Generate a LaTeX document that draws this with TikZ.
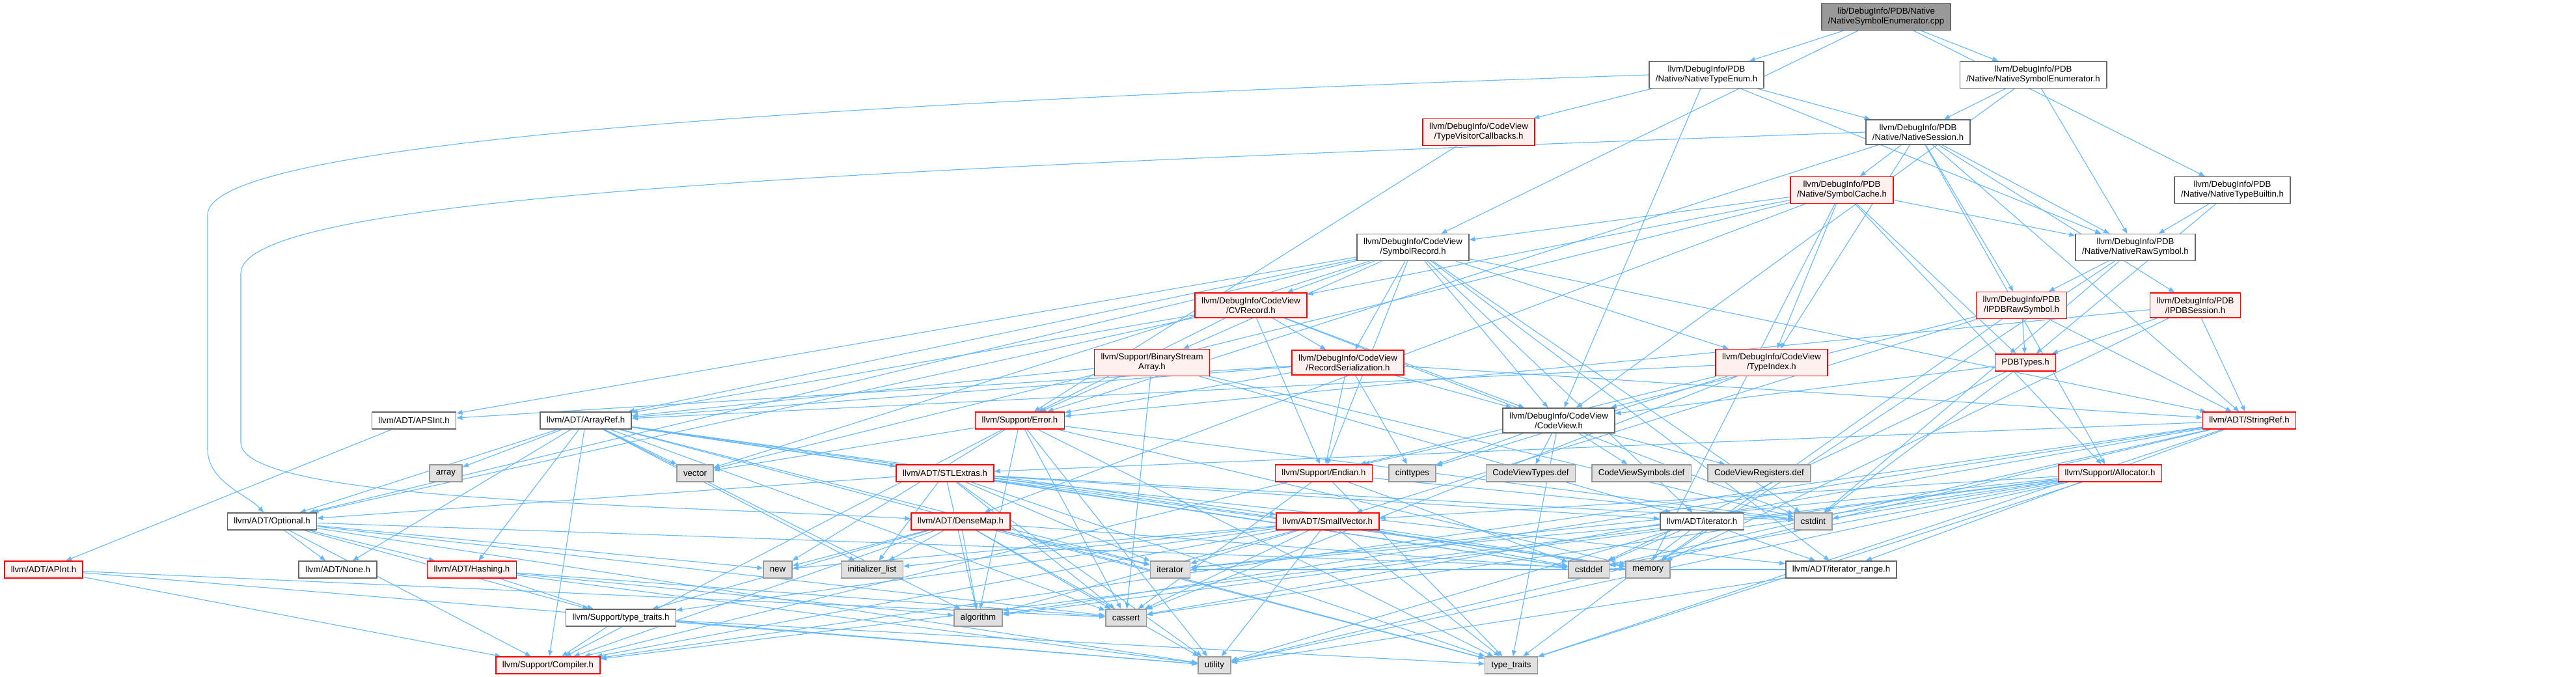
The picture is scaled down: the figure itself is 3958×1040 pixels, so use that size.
\documentclass[tikz,border=0pt]{standalone}
\usepackage{fontspec}
\setmainfont{Liberation Sans}
\usepackage{xcolor}
\usepackage{tikz}
\usetikzlibrary{arrows.meta,backgrounds}

\definecolor{edgeblue}{HTML}{63B8FF}
\definecolor{redfill}{HTML}{FFF0F0}
\definecolor{sysfill}{HTML}{E0E0E0}

\begin{document}
\begin{tikzpicture}[
  x=1pt, y=-1pt,
  filebox/.style={draw=black!60, line width=1.5pt, fill=white, align=center, font=\fontsize{13.2}{15}\selectfont, inner xsep=10pt, inner ysep=6.8pt, minimum height=26pt},
  redbox/.style={filebox, draw=red, fill=redfill},
  sysbox/.style={filebox, draw=black!40, fill=sysfill},
  rootbox/.style={filebox, fill=black!40},
  arr/.style={-{Triangle[length=9pt,width=7pt]}, draw=edgeblue, line width=1.1pt}
]
\useasboundingbox (0,0) rectangle (3958,1040);

% top of the graph
\node[rootbox] (root) at (2898,26) {lib/DebugInfo/PDB/Native\\/NativeSymbolEnumerator.cpp};
\node[filebox] (nte) at (2622,115) {llvm/DebugInfo/PDB\\/Native/NativeTypeEnum.h};
\node[filebox] (nseh) at (3124,115) {llvm/DebugInfo/PDB\\/Native/NativeSymbolEnumerator.h};
\node[redbox] (tvc) at (2272,203) {llvm/DebugInfo/CodeView\\/TypeVisitorCallbacks.h};
\node[filebox] (nsess) at (2947,203) {llvm/DebugInfo/PDB\\/Native/NativeSession.h};
\node[redbox] (scache) at (2830,292) {llvm/DebugInfo/PDB\\/Native/SymbolCache.h};
\node[filebox] (ntb) at (3430,292) {llvm/DebugInfo/PDB\\/Native/NativeTypeBuiltin.h};
\node[filebox] (srec) at (2171,380) {llvm/DebugInfo/CodeView\\/SymbolRecord.h};
\node[filebox] (nraw) at (3281,380) {llvm/DebugInfo/PDB\\/Native/NativeRawSymbol.h};
\node[redbox] (cvrec) at (1922,469) {llvm/DebugInfo/CodeView\\/CVRecord.h};
\node[redbox] (ipdbraw) at (3106,469) {llvm/DebugInfo/PDB\\/IPDBRawSymbol.h};
\node[redbox] (ipdbsess) at (3373,469) {llvm/DebugInfo/PDB\\/IPDBSession.h};
\node[redbox] (bsa) at (1770,557) {llvm/Support/BinaryStream\\Array.h};
\node[redbox] (rser) at (2071,557) {llvm/DebugInfo/CodeView\\/RecordSerialization.h};
\node[redbox] (tidx) at (2722,557) {llvm/DebugInfo/CodeView\\/TypeIndex.h};
\node[redbox] (pdbtypes) at (3112,557) {PDBTypes.h};
\node[filebox] (cview) at (2395,646) {llvm/DebugInfo/CodeView\\/CodeView.h};

% middle rows
\node[filebox] (apsint) at (636,646) {llvm/ADT/APSInt.h};
\node[filebox] (aref) at (900,646) {llvm/ADT/ArrayRef.h};
\node[redbox] (err) at (1567,646) {llvm/Support/Error.h};
\node[redbox] (sref) at (3456,646) {llvm/ADT/StringRef.h};
\node[sysbox] (array) at (685,727) {array};
\node[sysbox] (vector) at (1068,727) {vector};
\node[redbox] (stlx) at (1452,727) {llvm/ADT/STLExtras.h};
\node[redbox] (endian) at (2034,727) {llvm/Support/Endian.h};
\node[sysbox] (cinttypes) at (2170,727) {cinttypes};
\node[sysbox] (cvtdef) at (2352,727) {CodeViewTypes.def};
\node[sysbox] (cvsdef) at (2522,727) {CodeViewSymbols.def};
\node[sysbox] (cvrdef) at (2703,727) {CodeViewRegisters.def};
\node[redbox] (alloc) at (3242,727) {llvm/Support/Allocator.h};
\node[filebox] (opt) at (418,801) {llvm/ADT/Optional.h};
\node[redbox] (dmap) at (1476,801) {llvm/ADT/DenseMap.h};
\node[redbox] (svec) at (2040,801) {llvm/ADT/SmallVector.h};
\node[filebox] (iterh) at (2615,801) {llvm/ADT/iterator.h};
\node[sysbox] (cstdint) at (2786,801) {cstdint};

% bottom rows
\node[redbox] (apint) at (67,875) {llvm/ADT/APInt.h};
\node[filebox] (none) at (519,875) {llvm/ADT/None.h};
\node[redbox] (hashing) at (725,875) {llvm/ADT/Hashing.h};
\node[sysbox] (new) at (1195,875) {new};
\node[sysbox] (initlist) at (1340,875) {initializer\_list};
\node[sysbox] (iterator) at (1798,875) {iterator};
\node[sysbox] (cstddef) at (2441,875) {cstddef};
\node[sysbox] (memory) at (2532,875) {memory};
\node[filebox] (itrange) at (2829,875) {llvm/ADT/iterator\_range.h};
\node[filebox] (ttraitsh) at (954,949) {llvm/Support/type\_traits.h};
\node[sysbox] (algorithm) at (1503,949) {algorithm};
\node[sysbox] (cassert) at (1730,949) {cassert};
\node[redbox] (compiler) at (842,1022) {llvm/Support/Compiler.h};
\node[sysbox] (utility) at (1866,1022) {utility};
\node[sysbox] (typetraits) at (2322,1022) {type\_traits};

\begin{scope}[on background layer]
\fill[white] (0,0) rectangle (3958,1040);

\draw[arr] (root) -- (nte);
\draw[arr] (root) -- (nseh);
\draw[arr] (root) -- (ntb);
\draw[arr] (root) -- (srec);

\draw[arr] (nte.west) .. controls (1200,160) and (319,220) .. (319,330) -- (319,690) .. controls (319,740) and (380,760) .. (opt);
\draw[arr] (nte) -- (tvc);
\draw[arr] (nte) -- (cview);
\draw[arr] (nte) -- (nsess);
\draw[arr] (nte) -- (nraw);

\draw[arr] (nseh) -- (nsess);
\draw[arr] (nseh) -- (nraw);
\draw[arr] (nseh) -- (cview);

\draw[arr] (ntb) -- (nraw);
\draw[arr] (ntb) -- (pdbtypes);

\draw[arr] (tvc) -- (err);

\draw[arr] (nsess.west) .. controls (1300,260) and (370,300) .. (370,420) -- (370,680) .. controls (370,770) and (1000,775) .. (dmap);
\draw[arr] (nsess) -- (sref);
\draw[arr] (nsess) -- (ipdbraw);
\draw[arr] (nsess) -- (ipdbsess);
\draw[arr] (nsess) -- (nraw);
\draw[arr] (nsess) -- (scache);
\draw[arr] (nsess) -- (alloc);
\draw[arr] (nsess) -- (err);
\draw[arr] (nsess) -- (tidx);

\draw[arr] (scache) -- (srec);
\draw[arr] (scache) -- (dmap);
\draw[arr] (scache) -- (cvrec);
\draw[arr] (scache) -- (tidx);
\draw[arr] (scache) -- (nraw);
\draw[arr] (scache) -- (pdbtypes);
\draw[arr] (scache) -- (alloc);
\draw[arr] (scache) -- (memory);
\draw[arr] (scache) -- (vector);

\draw[arr] (srec) -- (apsint);
\draw[arr] (srec) -- (aref);
\draw[arr] (srec) -- (opt);
\draw[arr] (srec) -- (sref);
\draw[arr] (srec) -- (iterh);
\draw[arr] (srec) -- (itrange);
\draw[arr] (srec) -- (cvrec);
\draw[arr] (srec) -- (cview);
\draw[arr] (srec) -- (rser);
\draw[arr] (srec) -- (tidx);
\draw[arr] (srec) -- (bsa);
\draw[arr] (srec) -- (endian);
\draw[arr] (srec) -- (cstdint);
\draw[arr] (srec) -- (vector);

\draw[arr] (nraw) -- (ipdbraw);
\draw[arr] (nraw) -- (cstdint);
\draw[arr] (nraw) -- (memory);

\draw[arr] (cvrec) -- (aref);
\draw[arr] (cvrec) -- (opt);
\draw[arr] (cvrec) -- (cview);
\draw[arr] (cvrec) -- (rser);
\draw[arr] (cvrec) -- (endian);
\draw[arr] (cvrec) -- (err);
\draw[arr] (cvrec) -- (cstdint);

\draw[arr] (ipdbraw) -- (pdbtypes);
\draw[arr] (ipdbraw) -- (svec);
\draw[arr] (ipdbraw) -- (sref);
\draw[arr] (ipdbraw) -- (cview);
\draw[arr] (ipdbraw) -- (memory);

\draw[arr] (ipdbsess) -- (pdbtypes);
\draw[arr] (ipdbsess) -- (sref);
\draw[arr] (ipdbsess) -- (err);
\draw[arr] (ipdbsess) -- (memory);

\draw[arr] (bsa) -- (aref);
\draw[arr] (bsa) -- (iterh);
\draw[arr] (bsa) -- (err);
\draw[arr] (bsa) -- (cassert);
\draw[arr] (bsa) -- (cstdint);

\draw[arr] (rser) -- (apsint);
\draw[arr] (rser) -- (aref);
\draw[arr] (rser) -- (sref);
\draw[arr] (rser) -- (cview);
\draw[arr] (rser) -- (endian);
\draw[arr] (rser) -- (err);
\draw[arr] (rser) -- (cinttypes);

\draw[arr] (tidx) -- (aref);
\draw[arr] (tidx) -- (endian);
\draw[arr] (tidx) -- (cassert);
\draw[arr] (tidx) -- (cinttypes);

\draw[arr] (pdbtypes) -- (cview);
\draw[arr] (pdbtypes) -- (cstddef);
\draw[arr] (pdbtypes) -- (cstdint);

\draw[arr] (cview) -- (cinttypes);
\draw[arr] (cview) -- (typetraits);
\draw[arr] (cview) -- (endian);
\draw[arr] (cview) -- (cvtdef);
\draw[arr] (cview) -- (cvsdef);
\draw[arr] (cview) -- (cvrdef);

\draw[arr] (apsint) -- (apint);

\draw[arr] (aref) -- (hashing);
\draw[arr] (aref) -- (none);
\draw[arr] (aref) -- (svec);
\draw[arr] (aref) -- (stlx);
\draw[arr] (aref) -- (opt);
\draw[arr] (aref) -- (compiler);
\draw[arr] (aref) -- (algorithm);
\draw[arr] (aref) -- (array);
\draw[arr] (aref) -- (cassert);
\draw[arr] (aref) -- (cstddef);
\draw[arr] (aref) -- (initlist);
\draw[arr] (aref) -- (iterator);
\draw[arr] (aref) -- (memory);
\draw[arr] (aref) -- (typetraits);
\draw[arr] (aref) -- (vector);

\draw[arr] (err) -- (compiler);
\draw[arr] (err) -- (algorithm);
\draw[arr] (err) -- (cassert);
\draw[arr] (err) -- (cstdint);
\draw[arr] (err) -- (memory);
\draw[arr] (err) -- (new);
\draw[arr] (err) -- (typetraits);
\draw[arr] (err) -- (utility);
\draw[arr] (err) -- (vector);

\draw[arr] (sref) -- (stlx);
\draw[arr] (sref) -- (itrange);
\draw[arr] (sref) -- (compiler);
\draw[arr] (sref) -- (algorithm);
\draw[arr] (sref) -- (cassert);
\draw[arr] (sref) -- (cstddef);
\draw[arr] (sref) -- (typetraits);
\draw[arr] (sref) -- (utility);

\draw[arr] (stlx) -- (opt);
\draw[arr] (stlx) -- (iterh);
\draw[arr] (stlx) -- (itrange);
\draw[arr] (stlx) -- (algorithm);
\draw[arr] (stlx) -- (cassert);
\draw[arr] (stlx) -- (cstddef);
\draw[arr] (stlx) -- (cstdint);
\draw[arr] (stlx) -- (initlist);
\draw[arr] (stlx) -- (iterator);
\draw[arr] (stlx) -- (memory);
\draw[arr] (stlx) -- (typetraits);
\draw[arr] (stlx) -- (utility);

\draw[arr] (endian) -- (compiler);
\draw[arr] (endian) -- (cassert);
\draw[arr] (endian) -- (cstddef);
\draw[arr] (endian) -- (cstdint);
\draw[arr] (endian) -- (typetraits);

\draw[arr] (alloc) -- (svec);
\draw[arr] (alloc) -- (compiler);
\draw[arr] (alloc) -- (algorithm);
\draw[arr] (alloc) -- (cassert);
\draw[arr] (alloc) -- (cstddef);
\draw[arr] (alloc) -- (cstdint);
\draw[arr] (alloc) -- (iterator);
\draw[arr] (alloc) -- (typetraits);
\draw[arr] (alloc) -- (utility);

\draw[arr] (opt) -- (hashing);
\draw[arr] (opt) -- (none);
\draw[arr] (opt) -- (compiler);
\draw[arr] (opt) -- (ttraitsh);
\draw[arr] (opt) -- (cassert);
\draw[arr] (opt) -- (memory);
\draw[arr] (opt) -- (new);
\draw[arr] (opt) -- (utility);

\draw[arr] (dmap) -- (compiler);
\draw[arr] (dmap) -- (ttraitsh);
\draw[arr] (dmap) -- (algorithm);
\draw[arr] (dmap) -- (cassert);
\draw[arr] (dmap) -- (cstddef);
\draw[arr] (dmap) -- (initlist);
\draw[arr] (dmap) -- (iterator);
\draw[arr] (dmap) -- (new);
\draw[arr] (dmap) -- (typetraits);
\draw[arr] (dmap) -- (utility);

\draw[arr] (svec) -- (compiler);
\draw[arr] (svec) -- (ttraitsh);
\draw[arr] (svec) -- (algorithm);
\draw[arr] (svec) -- (cassert);
\draw[arr] (svec) -- (cstddef);
\draw[arr] (svec) -- (initlist);
\draw[arr] (svec) -- (iterator);
\draw[arr] (svec) -- (memory);
\draw[arr] (svec) -- (new);
\draw[arr] (svec) -- (typetraits);
\draw[arr] (svec) -- (utility);

\draw[arr] (iterh) -- (itrange);
\draw[arr] (iterh) -- (cstddef);
\draw[arr] (iterh) -- (iterator);
\draw[arr] (iterh) -- (typetraits);
\draw[arr] (iterh) -- (utility);

\draw[arr] (itrange) -- (iterator);
\draw[arr] (itrange) -- (utility);

\draw[arr] (apint) -- (compiler);
\draw[arr] (apint) -- (cassert);
\draw[arr] (apint) -- (utility);

\draw[arr] (hashing) -- (ttraitsh);
\draw[arr] (hashing) -- (algorithm);
\draw[arr] (hashing) -- (cassert);
\draw[arr] (hashing) -- (utility);

\draw[arr] (ttraitsh) -- (compiler);
\draw[arr] (ttraitsh) -- (typetraits);
\draw[arr] (ttraitsh) -- (utility);
\end{scope}

\end{tikzpicture}
\end{document}
